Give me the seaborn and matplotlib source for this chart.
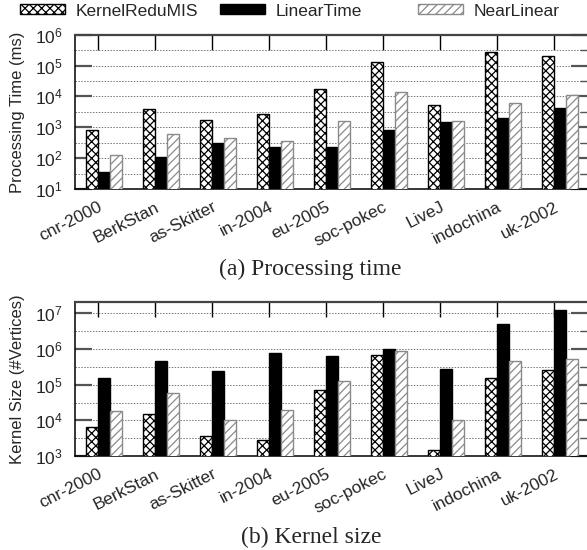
import numpy as np
import pandas as pd
import matplotlib
matplotlib.use("Agg")
import matplotlib.pyplot as plt
import matplotlib.ticker as mticker
import matplotlib.transforms as mtransforms
from matplotlib.patches import Patch
import seaborn as sns

# ---------------- data ----------------
datasets = ["cnr-2000", "BerkStan", "as-Skitter", "in-2004", "eu-2005",
            "soc-pokec", "LiveJ", "indochina", "uk-2002"]
methods = ["KernelReduMIS", "LinearTime", "NearLinear"]

time_kernelredumis = [810, 3900, 1700, 2630, 17000, 135000, 5100, 265000, 200000]
time_lineartime = [35, 110, 316, 234, 235, 810, 1480, 2000, 4200]
time_nearlinear = [126, 590, 455, 350, 1590, 13500, 1550, 6200, 11200]

size_kernelredumis = [6600, 15000, 3600, 2800, 71000, 660000, 1480, 151000, 257000]
size_lineartime = [156000, 457000, 245000, 780000, 630000, 1000000, 275000, 4900000, 12300000]
size_nearlinear = [18600, 58000, 10000, 19500, 129000, 870000, 10200, 457000, 510000]

# ---------------- style ----------------
sns.set_style("white")
plt.rcParams["font.family"] = ["Liberation Sans", "DejaVu Sans"]
plt.rcParams["mathtext.fontset"] = "custom"
plt.rcParams["mathtext.rm"] = "Liberation Sans"
plt.rcParams["mathtext.it"] = "Liberation Sans"
plt.rcParams["mathtext.default"] = "regular"
plt.rcParams["hatch.linewidth"] = 0.9

styles = {
    "KernelReduMIS": dict(facecolor="white", edgecolor="black", hatch="xxxx"),
    "LinearTime": dict(facecolor="black", edgecolor="black", hatch=None),
    "NearLinear": dict(facecolor="white", edgecolor="#8a8a8a", hatch="////"),
}

def long_df(a, b, c):
    return pd.DataFrame({
        "dataset": datasets * 3,
        "method": [methods[0]] * 9 + [methods[1]] * 9 + [methods[2]] * 9,
        "value": list(a) + list(b) + list(c),
    })

W, H = 587, 550
fig = plt.figure(figsize=(W / 100, H / 100), dpi=100)

left = 75 / W
width = (588 - 75) / W
ax1 = fig.add_axes([left, 1 - 189 / H, width, (189 - 34.7) / H])
ax2 = fig.add_axes([left, 1 - 456 / H, width, (456 - 302.3) / H])

bar_w = 0.21
label_shift = mtransforms.ScaledTranslation(5 / 100, 0, fig.dpi_scale_trans)

def draw(ax, df, ylim, ylabel):
    sns.barplot(data=df, x="dataset", y="value", hue="method", order=datasets,
                hue_order=methods, width=3 * bar_w, dodge=True, ax=ax,
                log_scale=(False, True), legend=False, errorbar=None,
                linewidth=1.0, saturation=1)
    for cont, m in zip(ax.containers, methods):
        st = styles[m]
        for p in cont.patches:
            p.set_facecolor(st["facecolor"])
            p.set_edgecolor(st["edgecolor"])
            if st["hatch"]:
                p.set_hatch(st["hatch"])
            p.set_linewidth(1.0)
            p.set_zorder(3)
    ax.set_yscale("log")
    ax.set_ylim(*ylim)
    n = len(datasets)
    ticks = np.arange(n) - bar_w / 2
    ax.set_xticks(ticks)
    ax.set_xticklabels(datasets, rotation=27, ha="right", va="top",
                       rotation_mode="anchor", fontsize=12.5)
    for lbl in ax.get_xticklabels():
        lbl.set_transform(lbl.get_transform() + label_shift)
    ax.set_xlim(-0.505, 8.49)
    ax.set_xlabel("")
    ax.set_ylabel(ylabel, fontsize=12)
    ax.yaxis.set_label_coords(-0.098, 0.5)
    lo, hi = np.log10(ylim[0]), np.log10(ylim[1])
    majors = 10.0 ** np.arange(np.floor(lo), np.floor(hi) + 1)
    minors = 10.0 ** (np.arange(np.floor(lo), np.floor(hi) + 1) + 0.5)
    ax.yaxis.set_major_locator(mticker.FixedLocator(majors))
    ax.yaxis.set_minor_locator(mticker.FixedLocator(minors))
    ax.yaxis.set_major_formatter(mticker.LogFormatterSciNotation())
    ax.yaxis.set_minor_formatter(mticker.NullFormatter())
    ax.tick_params(axis="y", which="major", direction="in", length=12.5,
                   width=1.6, color="#555555", left=True, right=True,
                   labelsize=12.5, pad=9)
    ax.tick_params(axis="y", which="minor", direction="in", length=6,
                   width=1.0, color="#555555", left=False, right=True)
    ax.tick_params(axis="x", which="major", direction="in", length=11,
                   width=1.0, color="black", top=True, bottom=False, pad=7.5)
    ax.grid(True, axis="y", which="both", linestyle=(0, (1.5, 1.5)),
            color="#777777", linewidth=0.7)
    ax.set_axisbelow(True)
    for s in ax.spines.values():
        s.set_color("black")
        s.set_linewidth(1.1)
        s.set_visible(True)
    ax.spines["top"].set_color("#444444")
    ax.spines["top"].set_linewidth(1.6)

draw(ax1, long_df(time_kernelredumis, time_lineartime, time_nearlinear),
     (10, 1e6), "Processing Time (ms)")
draw(ax2, long_df(size_kernelredumis, size_lineartime, size_nearlinear),
     (1e3, 2.04e7), "Kernel Size (#Vertices)")

# legend entries (gnuplot-style key)
leg_x = [20 / W, 220 / W, 418 / W]
for m, x in zip(methods, leg_x):
    st = styles[m]
    h = Patch(facecolor=st["facecolor"], edgecolor=st["edgecolor"],
              hatch=st["hatch"], linewidth=1.0, label=m)
    fig.legend(handles=[h], loc="center left", bbox_to_anchor=(x, 1 - 11 / H),
               frameon=False, fontsize=12.5, handlelength=2.6, handleheight=0.52,
               handletextpad=0.6, borderpad=0, borderaxespad=0)

fig.text(310 / W, 1 - 275 / H, "(a) Processing time", ha="center", va="baseline",
         fontsize=17, family=["Liberation Serif", "DejaVu Serif"])
fig.text(311 / W, 1 - 543 / H, "(b) Kernel size", ha="center", va="baseline",
         fontsize=17, family=["Liberation Serif", "DejaVu Serif"])

fig.savefig("out.png", dpi=100)
